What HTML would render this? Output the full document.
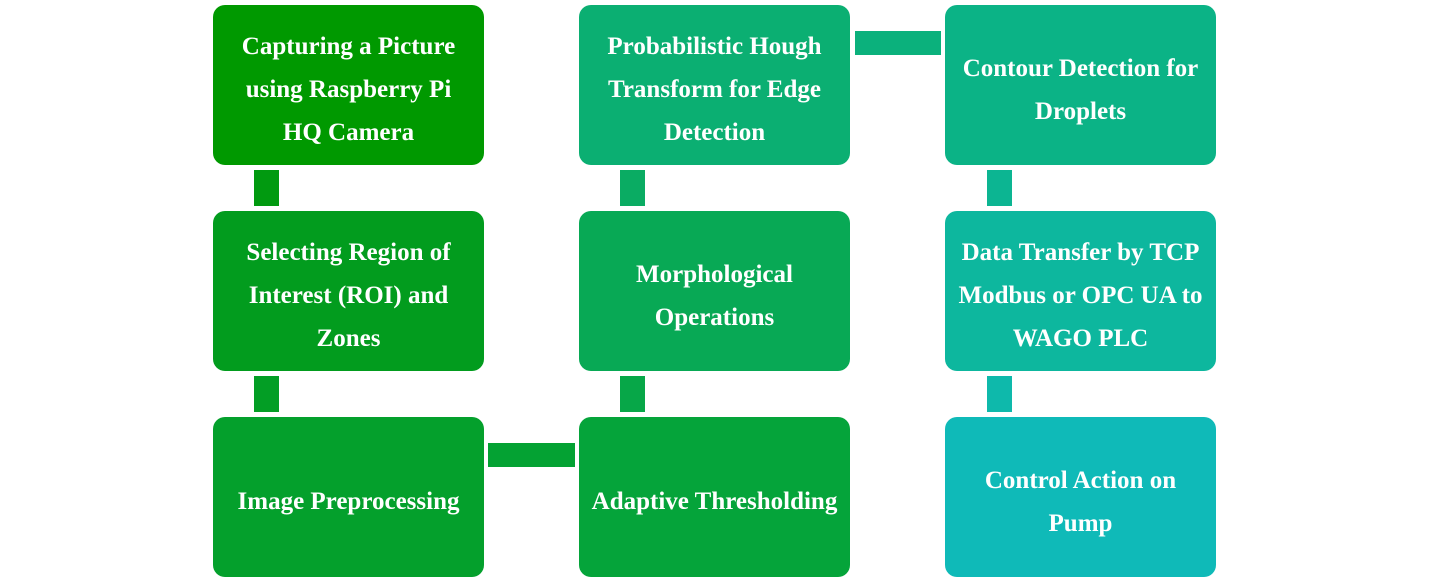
<!DOCTYPE html>
<html><head><style>
body{margin:0;width:1430px;height:583px;background:#fff;position:relative;overflow:hidden;font-family:"Liberation Serif",serif;}
.b{position:absolute;width:271px;height:160px;border-radius:12px;color:#fff;font-weight:bold;font-size:25px;line-height:43px;display:flex;align-items:center;justify-content:center;text-align:center;box-sizing:border-box;padding-top:9px;white-space:nowrap;}
.c{position:absolute;}
</style></head><body>
<div class="b" style="left:213px;top:5px;background:#009900">Capturing a Picture<br>using Raspberry Pi<br>HQ Camera</div>
<div class="b" style="left:213px;top:211px;background:#029c1e">Selecting Region of<br>Interest (ROI) and<br>Zones</div>
<div class="b" style="left:213px;top:417px;background:#04a02c">Image Preprocessing</div>
<div class="b" style="left:579px;top:417px;background:#05a43a">Adaptive Thresholding</div>
<div class="b" style="left:579px;top:211px;background:#08a955">Morphological<br>Operations</div>
<div class="b" style="left:579px;top:5px;background:#0baf72">Probabilistic Hough<br>Transform for Edge<br>Detection</div>
<div class="b" style="left:945px;top:5px;background:#0bb386">Contour Detection for<br>Droplets</div>
<div class="b" style="left:945px;top:211px;background:#0db79e">Data Transfer by TCP<br>Modbus or OPC UA to<br>WAGO PLC</div>
<div class="b" style="left:945px;top:417px;background:#0fbab8">Control Action on<br>Pump</div>
<div class="c" style="left:254px;top:170px;width:25px;height:36px;background:#019a10"></div>
<div class="c" style="left:254px;top:376px;width:25px;height:36px;background:#039e25"></div>
<div class="c" style="left:488px;top:443px;width:87px;height:24px;background:#04a233"></div>
<div class="c" style="left:620px;top:376px;width:25px;height:36px;background:#07a748"></div>
<div class="c" style="left:620px;top:170px;width:25px;height:36px;background:#0aac63"></div>
<div class="c" style="left:855px;top:31px;width:86px;height:24px;background:#0bb17c"></div>
<div class="c" style="left:987px;top:170px;width:25px;height:36px;background:#0cb592"></div>
<div class="c" style="left:987px;top:376px;width:25px;height:36px;background:#0eb9ab"></div>
</body></html>
